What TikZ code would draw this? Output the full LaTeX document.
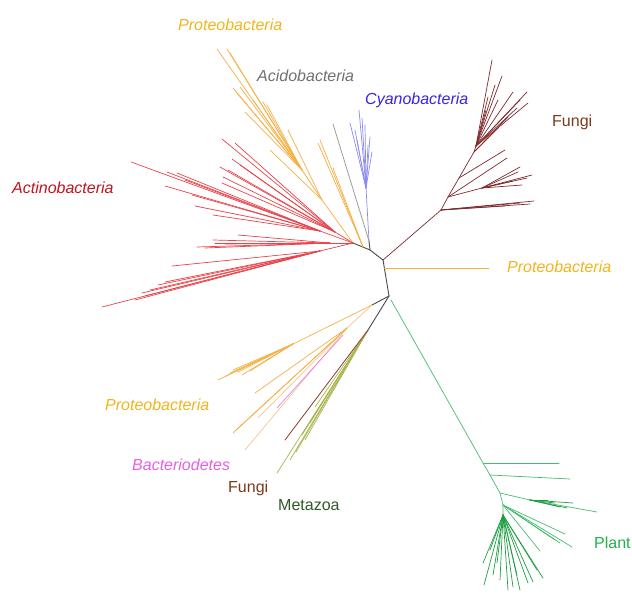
\documentclass[tikz,border=0pt]{standalone}
\usepackage{fontspec}
\setmainfont{Liberation Sans}
\definecolor{backc}{HTML}{4A4A4A}
\definecolor{protT}{HTML}{F2B41E}
\definecolor{protL}{HTML}{F4B043}
\definecolor{protL2}{HTML}{F5C48E}
\definecolor{actT}{HTML}{C4121C}
\definecolor{actL}{HTML}{E8444A}
\definecolor{cyT}{HTML}{3A22E8}
\definecolor{cyL}{HTML}{8A8AF2}
\definecolor{acT}{HTML}{707070}
\definecolor{acL}{HTML}{9A9A9A}
\definecolor{fuT}{HTML}{7A3A1A}
\definecolor{fuL}{HTML}{7E2A2C}
\definecolor{plT}{HTML}{22B04A}
\definecolor{plL}{HTML}{46BC6E}
\definecolor{plL2}{HTML}{1E9E42}
\definecolor{baT}{HTML}{E65FE6}
\definecolor{baL}{HTML}{E880E8}
\definecolor{meT}{HTML}{2F5A2A}
\definecolor{meL}{HTML}{A8B450}
\definecolor{bfL}{HTML}{8A3A2A}
\begin{document}
\begin{tikzpicture}[x=1pt,y=-1pt,line cap=round,
  bb/.style={draw=backc,line width=0.9pt},
  actl/.style={draw=actL,line width=0.7pt},
  protl/.style={draw=protL,line width=0.7pt},
  protlb/.style={draw=protL2,line width=0.7pt},
  cyl/.style={draw=cyL,line width=0.7pt},
  acl/.style={draw=acL,line width=0.8pt},
  ful/.style={draw=fuL,line width=0.7pt},
  pll/.style={draw=plL,line width=0.7pt},
  pll2/.style={draw=plL2,line width=0.7pt},
  bal/.style={draw=baL,line width=0.7pt},
  mel/.style={draw=meL,line width=0.7pt},
  bfl/.style={draw=bfL,line width=0.8pt},
  lab/.style={anchor=base west,inner sep=0pt,font=\fontsize{16}{19}\selectfont},
  labi/.style={lab,font=\fontsize{16}{19}\selectfont\itshape}]
\useasboundingbox (0,0) rectangle (632,597);

% backbone
\coordinate (N1) at (370,250);
\coordinate (N2) at (383,260);
\coordinate (N3) at (389,296);
\coordinate (N4) at (368,330);
\coordinate (N5) at (372,305);
\coordinate (NA) at (353,243);
\coordinate (NP) at (363,247);
\coordinate (NC) at (369,241);
\draw[bb] (NA) -- (N1) -- (N2) -- (N3);
\draw[bb] (N1) -- (NC);
\draw[bb] (N3) -- (N5);
\draw[bb] (N3) -- (N4);

% right Proteobacteria
\coordinate (RP0) at (384.5,268);
\coordinate (RP) at (489,268);
\draw[protl] (RP0) -- (RP);

% Fungi (top right)
\coordinate (F0) at (441,210);
\coordinate (Fa) at (448,197);
\coordinate (Fb) at (459,178);
\coordinate (Fc) at (474,152);
\coordinate (Fs) at (482,188);
\coordinate (Fd) at (476,146);
\draw[ful] (N2) -- (F0) -- (Fa) -- (Fb) -- (Fc);
\draw[ful] (Fa) -- (Fs);
\draw[ful] (Fc) -- (Fd);
\foreach \x/\y [count=\i] in {534/201,530/204,505/206,520/203}
  {\coordinate (fa\i) at (\x,\y); \draw[ful] (F0) -- (fa\i);}
\foreach \x/\y [count=\i] in {532/175,520/167,522/185,513/181,527/178,518/172}
  {\coordinate (fb\i) at (\x,\y); \draw[ful] (Fs) -- (fb\i);}
\coordinate (fc1) at (507,158); \draw[ful] (Fa) -- (fc1);
\coordinate (fc2) at (505,150); \draw[ful] (Fb) -- (fc2);
\foreach \x/\y [count=\i] in {492/60,502/76,488/97,498/100,513/92,527/92,528/103,517/108,495/85,520/100,486/110}
  {\coordinate (fd\i) at (\x,\y); \draw[ful] (Fd) -- (fd\i);}
\foreach \x/\y [count=\i] in {508/117,498/128}
  {\coordinate (fe\i) at (\x,\y); \draw[ful] (Fc) -- (fe\i);}

% Acidobacteria
\coordinate (AC) at (333,124);
\draw[acl] (NC) -- (AC);

% Cyanobacteria
\coordinate (Cy0) at (366,188);
\draw[cyl] (NC) -- (Cy0);
\foreach \x/\y [count=\i] in {359/110,350/123,362/118,355/130,370/137,372/152,365/125,368/145,357/140}
  {\coordinate (cy\i) at (\x,\y); \draw[cyl] (Cy0) -- (cy\i);}

% Proteobacteria (top)
\coordinate (NP2) at (350,239);
\coordinate (P0) at (322,200);
\coordinate (P1) at (302,170);
\draw[protl] (NA) -- (NP2) -- (P0) -- (P1);
\foreach \x/\y [count=\i] in {217/49,227/49,230/53,233/88,240/87,253/100,263/102,245/112,267/105,236/92}
  {\coordinate (pt\i) at (\x,\y); \draw[protl] (P1) -- (pt\i);}
\foreach \x/\y [count=\i] in {288/130,270/150}
  {\coordinate (pu\i) at (\x,\y); \draw[protl] (P0) -- (pu\i);}
\foreach \x/\y [count=\i] in {320/140,318/143,333/168}
  {\coordinate (pv\i) at (\x,\y); \draw[protl] (NP) -- (pv\i);}

% Actinobacteria
\coordinate (A1) at (335,232);
\coordinate (A2) at (320,231);
\coordinate (A3) at (330,243);
\coordinate (A4) at (320,251);
\foreach \n in {A1,A2,A3,A4} {\draw[actl] (NA) -- (\n);}
\foreach \x/\y [count=\i] in {222/139,235/143,232/159,220/167,223/177,222/183,228/170,240/165}
  {\coordinate (aa\i) at (\x,\y); \draw[actl] (A1) -- (aa\i);}
\foreach \x/\y [count=\i] in {131/162,167/172,177/173,165/186,192/195,195/206,213/215,185/180}
  {\coordinate (ab\i) at (\x,\y); \draw[actl] (A2) -- (ab\i);}
\foreach \x/\y [count=\i] in {238/235,213/240,197/247,205/248,225/244,215/243}
  {\coordinate (ac\i) at (\x,\y); \draw[actl] (A3) -- (ac\i);}
\foreach \x/\y [count=\i] in {172/266,158/285,142/293,135/300,102/307,150/290,165/282,145/296}
  {\coordinate (ad\i) at (\x,\y); \draw[actl] (A4) -- (ad\i);}

% Proteobacteria (bottom left) and Bacteriodetes
\coordinate (Q1) at (293,344);
\coordinate (Q2) at (347,328);
\draw[protl] (N5) -- (Q1);
\draw[protlb] (N5) -- (Q2);
\foreach \x/\y [count=\i] in {218/380,230/373,233/370,242/375,250/371,226/376,238/372}
  {\coordinate (qa\i) at (\x,\y); \draw[protl] (Q1) -- (qa\i);}
\foreach \x/\y [count=\i] in {245/450,258/418}
  {\coordinate (qb\i) at (\x,\y); \draw[protlb] (Q2) -- (qb\i);}
\foreach \x/\y [count=\i] in {233/433,255/393,236/430}
  {\coordinate (qc\i) at (\x,\y); \draw[protl] (Q2) -- (qc\i);}
\coordinate (B0) at (343,335);
\coordinate (B1) at (277,408);
\draw[bal] (B0) -- (B1);

% Metazoa and Fungi (bottom)
\foreach \x/\y [count=\i] in {277/473,290/460,302/435,310/423,315/407,296/452,305/440}
  {\coordinate (me\i) at (\x,\y); \draw[mel] (N4) -- (me\i);}
\coordinate (BF) at (285,440);
\draw[bfl] (N4) -- (BF);

% Plant
\coordinate (G0) at (391,300);
\coordinate (Ga) at (483,463);
\coordinate (Gb) at (490,475);
\coordinate (Gt) at (500,493);
\coordinate (G2) at (503,505);
\coordinate (G3) at (503,515);
\coordinate (Gs) at (530,500);
\draw[pll] (G0) -- (Ga) -- (Gb) -- (Gt) -- (G2) -- (G3);
\coordinate (ga) at (559,463); \draw[pll] (Ga) -- (ga);
\coordinate (gb) at (570,479); \draw[pll] (Gb) -- (gb);
\draw[pll] (Gt) -- (Gs);
\coordinate (gt) at (597,512); \draw[pll] (Gs) -- (gt);
\foreach \x/\y [count=\i] in {573/503,567/508,548/500,560/507,555/503}
  {\coordinate (gs\i) at (\x,\y); \draw[pll2] (Gs) -- (gs\i);}
\foreach \x/\y [count=\i] in {572/547,565/534,540/551,555/540,560/543}
  {\coordinate (gu\i) at (\x,\y); \draw[pll] (G2) -- (gu\i);}
\foreach \x/\y [count=\i] in {483/563,484/585,490/550,497/563,508/590,520/590,533/582,543/578,513/587,528/583,493/575,537/570,500/580,517/575}
  {\coordinate (gv\i) at (\x,\y); \draw[pll2] (G3) -- (gv\i);}

% labels
\node[labi,text=protT] (lP1) at (178,30) {Proteobacteria};
\node[labi,text=acT] (lAc) at (257,81) {Acidobacteria};
\node[labi,text=cyT] (lCy) at (365,104) {Cyanobacteria};
\node[lab,text=fuT] (lF1) at (552,126) {Fungi};
\node[labi,text=actT] (lAct) at (12,193) {Actinobacteria};
\node[labi,text=protT] (lP2) at (507,272) {Proteobacteria};
\node[labi,text=protT] (lP3) at (105,410) {Proteobacteria};
\node[labi,text=baT] (lBa) at (132,470) {Bacteriodetes};
\node[lab,text=fuT] (lF2) at (228,492) {Fungi};
\node[lab,text=meT] (lMe) at (278,510) {Metazoa};
\node[lab,text=plT] (lPl) at (594,548) {Plant};
\end{tikzpicture}
\end{document}
